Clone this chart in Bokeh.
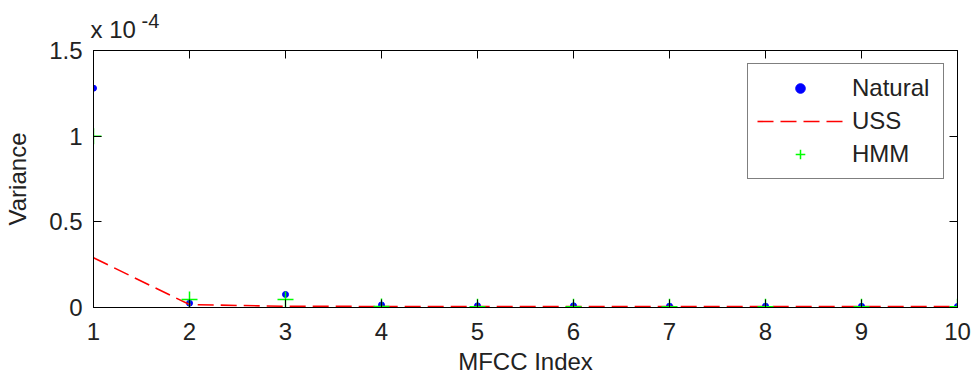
from bokeh.plotting import figure
from bokeh.models import (LinearAxis, FixedTicker, CustomJSTickFormatter, Range1d,
                          Title, ColumnDataSource)
from bokeh.embed import file_html
from bokeh.resources import INLINE

# ---- data (variance, real units) ----
mfcc_index = [1, 2, 3, 4, 5, 6, 7, 8, 9, 10]
natural = [1.28e-4, 0.025e-4, 0.076e-4, 0.015e-4, 0.010e-4, 0.010e-4, 0.008e-4, 0.008e-4, 0.007e-4, 0.006e-4]
uss = [0.29e-4, 0.017e-4, 0.007e-4, 0.006e-4, 0.006e-4, 0.006e-4, 0.006e-4, 0.006e-4, 0.006e-4, 0.006e-4]
hmm = [1.00e-4, 0.047e-4, 0.047e-4, 0.006e-4, 0.005e-4, 0.005e-4, 0.005e-4, 0.005e-4, 0.005e-4, 0.004e-4]
x_ticks = [1, 2, 3, 4, 5, 6, 7, 8, 9, 10]
y_ticks = [0, 0.5e-4, 1.0e-4, 1.5e-4]
x_label = "MFCC Index"
y_label = "Variance"
exp_base = "x 10"
exp_power = "-4"

FONT = "Liberation Sans"
TXT = "#222222"

src = ColumnDataSource(dict(x=mfcc_index, natural=natural, uss=uss, hmm=hmm))

p = figure(width=973, height=384, output_backend="svg", toolbar_location=None,
           x_range=Range1d(1, 10), y_range=Range1d(0, 1.5e-4),
           min_border_left=93, min_border_right=16, min_border_top=50, min_border_bottom=77)
p.background_fill_color = "white"
p.border_fill_color = "white"
p.outline_line_color = "black"
p.outline_line_width = 1
p.xgrid.visible = False
p.ygrid.visible = False

p.scatter("x", "natural", source=src, marker="circle", size=6, color="#0000ff",
          legend_label="Natural")
p.line("x", "uss", source=src, line_color="#ff0000", line_width=1.6, line_dash="16 7",
       legend_label="USS")
p.scatter("x", "hmm", source=src, marker="cross", size=16, line_color="#00ff00",
          line_width=1.5, legend_label="HMM")

yfmt = CustomJSTickFormatter(code="return (Math.round(tick*1e5)/10).toString();")


def style_axis(ax, labels=True):
    ax.axis_line_color = "black"
    ax.major_tick_line_color = "black"
    ax.major_tick_in = 8
    ax.major_tick_out = 0
    ax.minor_tick_line_color = None
    ax.minor_tick_in = 0
    ax.minor_tick_out = 0
    ax.major_label_text_font = FONT
    ax.major_label_text_font_size = "24px"
    ax.major_label_text_color = TXT
    ax.axis_label_text_font = FONT
    ax.axis_label_text_font_size = "24px"
    ax.axis_label_text_font_style = "normal"
    ax.axis_label_text_color = TXT
    if not labels:
        ax.major_label_text_font_size = "0px"
        ax.major_label_text_color = None
        ax.major_label_standoff = 0


xa = p.xaxis[0]
xa.ticker = FixedTicker(ticks=x_ticks)
xa.axis_label = x_label
xa.major_label_standoff = 15
xa.axis_label_standoff = 5
style_axis(xa)

ya = p.yaxis[0]
ya.ticker = FixedTicker(ticks=y_ticks)
ya.formatter = yfmt
ya.axis_label = y_label
ya.major_label_standoff = 11
ya.axis_label_standoff = 15
style_axis(ya)

top = LinearAxis(ticker=FixedTicker(ticks=x_ticks))
style_axis(top, labels=False)
p.add_layout(top, "above")
right = LinearAxis(ticker=FixedTicker(ticks=y_ticks))
style_axis(right, labels=False)
p.add_layout(right, "right")

p.add_layout(Title(text=exp_base, align="left", offset=-3, standoff=15.8,
                   text_font=FONT, text_font_size="24px", text_font_style="normal",
                   text_color=TXT), "above")
p.add_layout(Title(text=exp_power, align="left", offset=48, standoff=-44,
                   text_font=FONT, text_font_size="20px", text_font_style="normal",
                   text_color=TXT), "above")

lg = p.legend[0]
lg.location = "top_right"
lg.margin = 13
lg.padding = 9
lg.spacing = 3
lg.glyph_width = 86
lg.glyph_height = 24
lg.label_height = 30
lg.label_width = 82
lg.label_standoff = 9
lg.label_text_font = FONT
lg.label_text_font_size = "24px"
lg.label_text_color = TXT
lg.border_line_color = "black"
lg.border_line_width = 1
lg.background_fill_color = "white"
lg.background_fill_alpha = 1

open("out.html", "w").write(file_html(p, INLINE))
